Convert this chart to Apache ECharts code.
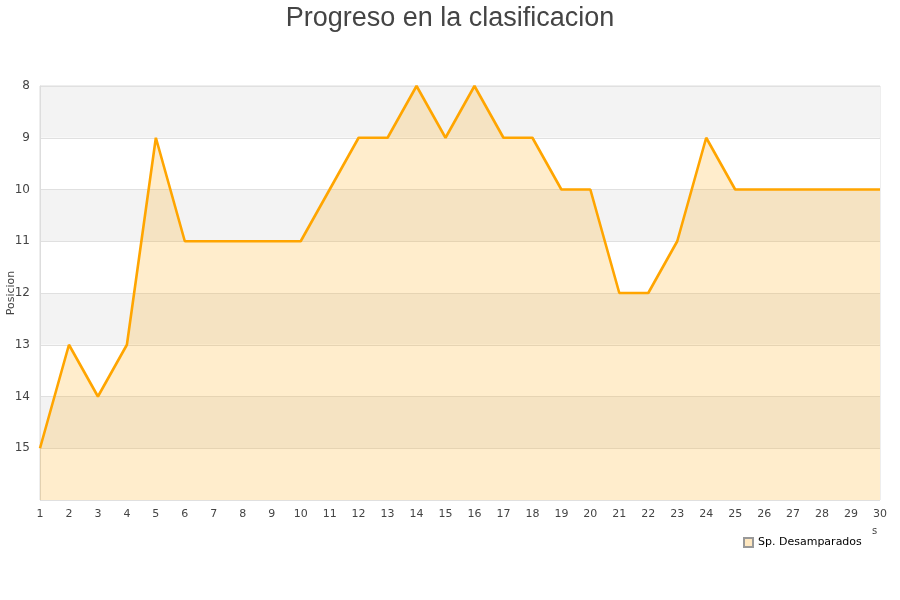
<!DOCTYPE html>
<html><head><meta charset="utf-8">
<script src="https://cdn.jsdelivr.net/npm/echarts@6/dist/echarts.min.js"></script>
<style>html,body{margin:0;padding:0;background:#fff}#c{width:900px;height:600px}</style>
</head><body><div id="c"></div>
<script>
const jornadas = ['1','2','3','4','5','6','7','8','9','10','11','12','13','14','15','16','17','18','19','20','21','22','23','24','25','26','27','28','29','30'];
const posiciones = [15,13,14,13,9,11,11,11,11,11,10,9,9,8,9,8,9,9,10,10,12,12,11,9,10,10,10,10,10,10];
const equipo = 'Sp. Desamparados';
const titulo = 'Progreso en la clasificacion';
const ejeY = 'Posicion';

const chart = echarts.init(document.getElementById('c'), null, {renderer:'canvas'});
chart.setOption({
  animation:false,
  title:{text:titulo,left:'center',top:0,textStyle:{fontFamily:'Liberation Sans, Arial',fontSize:27,fontWeight:'normal',color:'#444'}},
  grid:{left:40,right:20,top:86,bottom:100,containLabel:false,outerBoundsMode:'none',show:true,borderColor:'#ddd',borderWidth:1,backgroundColor:'transparent'},
  legend:{data:[{name:equipo,icon:'rect'}],left:738,top:532,itemWidth:9,itemHeight:9,itemGap:8,
    textStyle:{fontFamily:'DejaVu Sans',fontSize:11,color:'#000'}},
  xAxis:{type:'category',data:jornadas,boundaryGap:false,
    axisLine:{show:false},axisTick:{show:false},
    axisLabel:{fontFamily:'DejaVu Sans',fontSize:11,color:'#444',margin:9},
    splitLine:{show:false}},
  yAxis:{type:'value',inverse:true,min:8,max:16,interval:1,name:ejeY,nameLocation:'middle',nameGap:23,nameMoveOverlap:false,
    nameTextStyle:{fontFamily:'DejaVu Sans',fontSize:11,color:'#444'},
    axisLine:{show:true,lineStyle:{color:'#ddd'}},axisTick:{show:false},
    axisLabel:{fontFamily:'DejaVu Sans',fontSize:12,color:'#444',margin:10,formatter:v=>v===16?'':String(v)},
    splitLine:{show:true,lineStyle:{color:'#e0e0e0'}},
    splitArea:{show:true,areaStyle:{color:['#f3f3f3','#ffffff']}}},
  series:[{name:equipo,type:'line',data:posiciones,showSymbol:false,symbol:'none',
    lineStyle:{color:'#ffa500',width:2.6},itemStyle:{color:'#ffe8c0',borderColor:'#999',borderWidth:1},
    areaStyle:{origin:'end',color:'#ffa500',opacity:0.2}}],
  graphic:[{type:'text',left:872,top:526,style:{text:'s',font:'10px DejaVu Sans',fill:'#444'}}]
});
</script></body></html>
